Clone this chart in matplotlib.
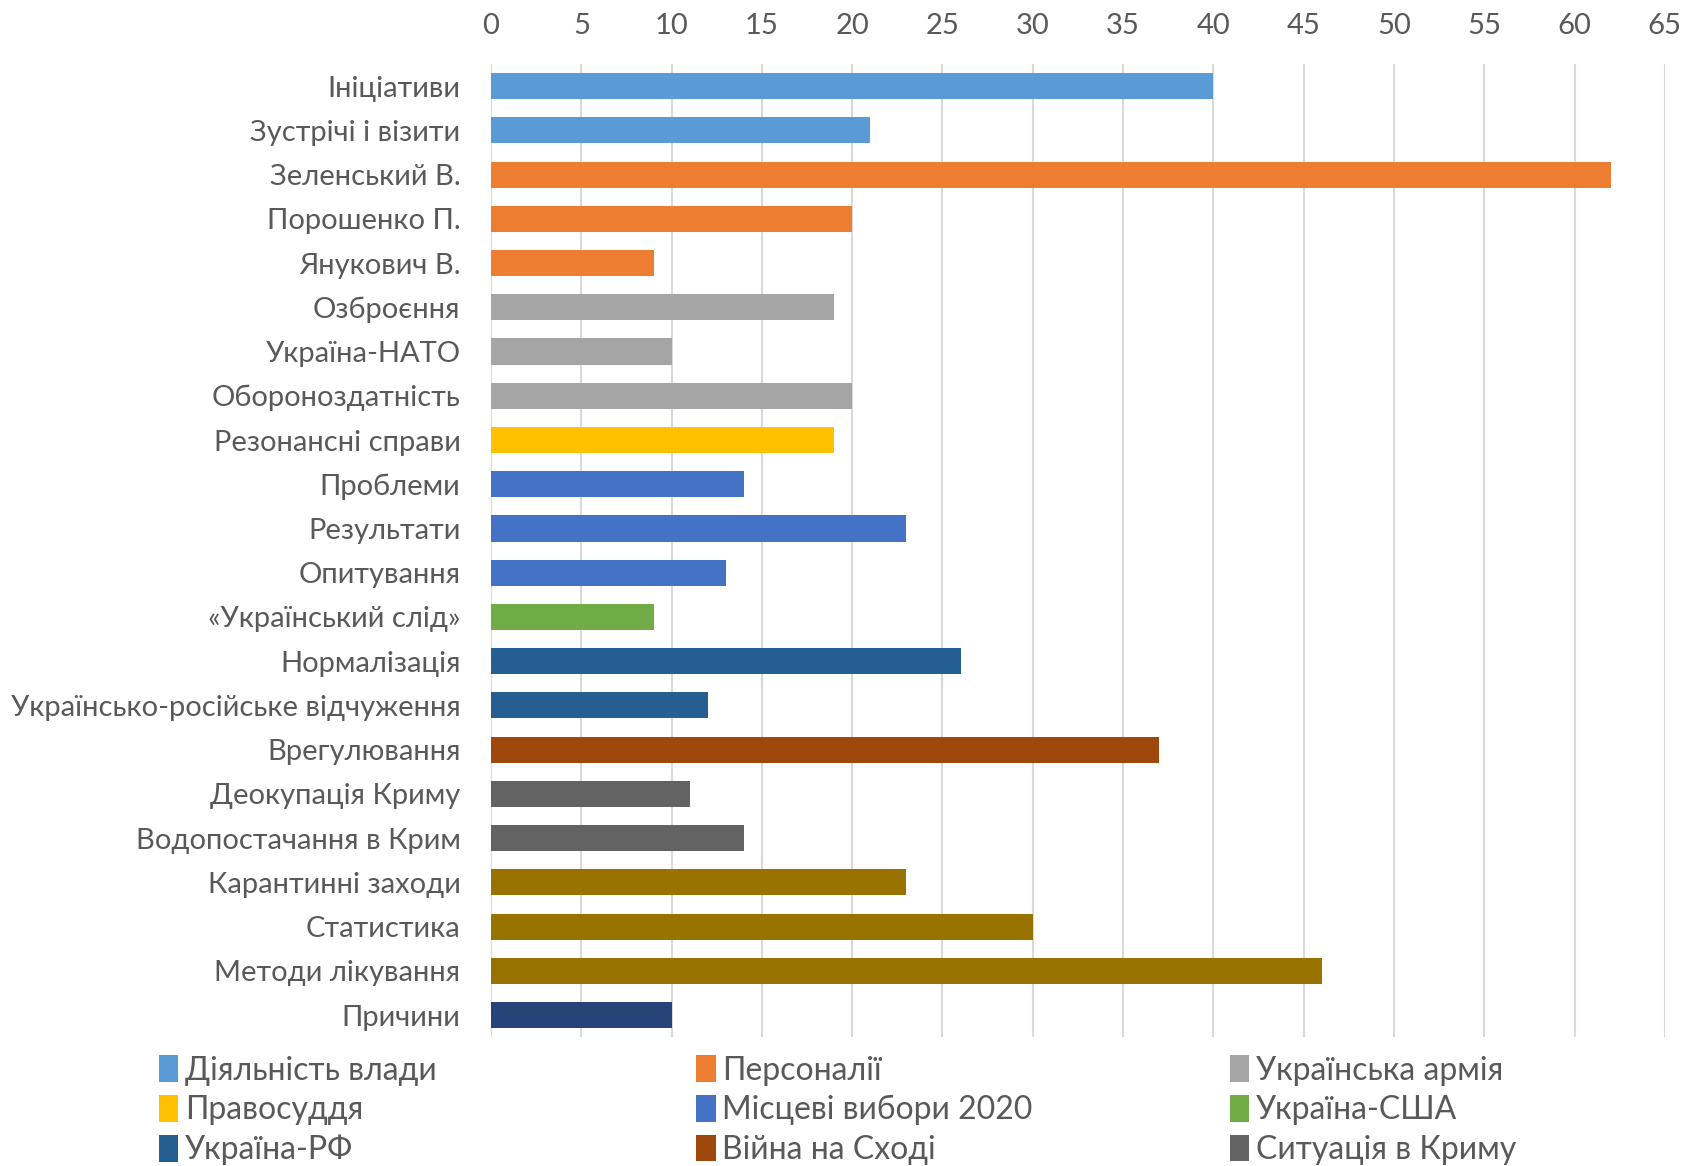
import matplotlib.pyplot as plt
from matplotlib.patches import Patch

plt.rcParams['font.family'] = ['Lato', 'DejaVu Sans']

# topics, top to bottom
topics = ["Ініціативи", "Зустрічі і візити", "Зеленський В.", "Порошенко П.",
          "Янукович В.", "Озброєння", "Україна-НАТО", "Обороноздатність",
          "Резонансні справи", "Проблеми", "Результати", "Опитування",
          "«Український слід»", "Нормалізація", "Українсько-російське відчуження",
          "Врегулювання", "Деокупація Криму", "Водопостачання в Крим",
          "Карантинні заходи", "Статистика", "Методи лікування", "Причини"]
counts = [40, 21, 62, 20, 9, 19, 10, 20, 19, 14, 23, 13, 9, 26, 12, 37, 11, 14,
          23, 30, 46, 10]
# index of the group each topic belongs to
topic_group = [0, 0, 1, 1, 1, 2, 2, 2, 3, 4, 4, 4, 5, 6, 6, 7, 8, 8, 9, 9, 9, 10]

groups = ["Діяльність влади", "Персоналії", "Українська армія",
          "Правосуддя", "Місцеві вибори 2020", "Україна-США",
          "Україна-РФ", "Війна на Сході", "Ситуація в Криму"]
group_colors = ["#5B9BD5", "#ED7D31", "#A5A5A5", "#FFC000", "#4472C4",
                "#70AD47", "#255E91", "#9E480E", "#636363", "#997300", "#264478"]

txt = "#595959"

fig = plt.figure(figsize=(16.84, 11.66), dpi=100)
ax = fig.add_axes([0.2916, 0.1105, 0.697, 0.8346])

colors = [group_colors[g] for g in topic_group]
ax.barh(range(len(topics)), counts, height=0.59, color=colors, zorder=3)

ax.set_xlim(0, 65)
ax.set_ylim(len(topics) - 0.5, -0.5)
ax.set_xticks(range(0, 66, 5))
ax.set_yticks(range(len(topics)))
ax.set_yticklabels(topics)
ax.xaxis.tick_top()
ax.tick_params(axis='both', length=0, colors=txt, labelsize=21)
ax.tick_params(axis='x', pad=18)
ax.tick_params(axis='y', pad=22)
ax.grid(axis='x', color="#D9D9D9", linewidth=1.5, zorder=0)
for s in ax.spines.values():
    s.set_visible(False)

# legend, three columns, filled row by row
col_x = [0.0945, 0.4135, 0.7305]
for c in range(3):
    names = groups[c::3]
    handles = [Patch(facecolor=group_colors[groups.index(n)]) for n in names]
    fig.legend(handles, names, loc='upper left', bbox_to_anchor=(col_x[c], 0.095),
               frameon=False, fontsize=23, labelcolor=txt, handlelength=0.6,
               handleheight=0.9, handletextpad=0.2, labelspacing=0.3,
               borderaxespad=0, borderpad=0)

fig.savefig("out.png", dpi=100)
